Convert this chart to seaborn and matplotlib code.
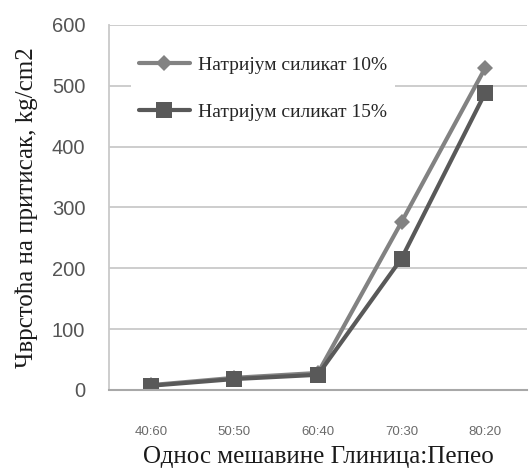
import matplotlib
matplotlib.use("Agg")
import matplotlib.pyplot as plt
import seaborn as sns
import pandas as pd
from matplotlib.ticker import FixedLocator

# Data
ratios = ["40:60", "50:50", "60:40", "70:30", "80:20"]
silicate_10 = [8, 20, 28, 276, 529]
silicate_15 = [7, 18, 25, 216, 488]
series_names = ["Натријум силикат 10%", "Натријум силикат 15%"]

df = pd.DataFrame({
    "pos": list(range(len(ratios))) * 2,
    "value": silicate_10 + silicate_15,
    "series": [series_names[0]] * len(ratios) + [series_names[1]] * len(ratios),
})

sns.set_style("white")
serif = ["Liberation Serif", "DejaVu Serif"]
sans = ["Liberation Sans", "DejaVu Sans"]

fig = plt.figure(figsize=(5.29, 4.71), dpi=100)
ax = fig.add_axes([0.206, 0.172, 0.79, 0.775])

grid_c = "#c9c9c9"
ax.set_ylim(0, 600)
ax.set_xlim(-0.5, 4.5)
ax.set_yticks(range(0, 601, 100))
ax.yaxis.grid(True, color=grid_c, linewidth=1.3)
ax.set_axisbelow(True)

sns.lineplot(data=df, x="pos", y="value", hue="series", style="series",
             markers={series_names[0]: "D", series_names[1]: "s"},
             dashes=False, palette={series_names[0]: "#828282", series_names[1]: "#595959"},
             linewidth=3, ax=ax, legend=False)
# marker sizes
lines = ax.get_lines()
lines[0].set_markersize(8)
lines[1].set_markersize(12)
for ln in lines:
    ln.set_markeredgewidth(0)

for s in ["top", "right"]:
    ax.spines[s].set_visible(False)
ax.spines["left"].set_color(grid_c)
ax.spines["left"].set_linewidth(1.3)
ax.spines["bottom"].set_color("#a8a8a8")
ax.spines["bottom"].set_linewidth(1.5)

ax.set_xticks(range(len(ratios)))
ax.set_xticklabels(ratios, fontsize=9.5, color="#6a6a6a", family=sans)
ax.xaxis.set_minor_locator(FixedLocator([-0.5, 0.5, 1.5, 2.5, 3.5]))
ax.tick_params(axis="x", which="major", length=0, pad=26)
ax.tick_params(axis="x", which="minor", length=7, width=1.3, color="#a8a8a8", direction="out")
ax.tick_params(axis="y", length=8, width=1.3, color=grid_c, pad=9, labelsize=14.5, labelcolor="#555555")
for t in ax.get_yticklabels():
    t.set_family(sans)

ax.set_xlabel("Однос мешавине Глиница:Пепео", fontsize=18, family=serif, color="#1a1a1a", labelpad=6)
ax.set_ylabel("Чврстоћа на притисак, kg/cm2", fontsize=18, family=serif, color="#1a1a1a", labelpad=10)

handles = [
    plt.Line2D([], [], color="#828282", linewidth=3, marker="D", markersize=8, markeredgewidth=0),
    plt.Line2D([], [], color="#595959", linewidth=3, marker="s", markersize=12, markeredgewidth=0),
]
leg = ax.legend(handles, series_names, loc="upper left", bbox_to_anchor=(0.03, 0.962),
                prop={"family": serif, "size": 14}, frameon=True, facecolor="white",
                edgecolor="none", framealpha=1, handlelength=2.6, handletextpad=0.45,
                labelspacing=1.5, borderpad=0.4, fancybox=False)

fig.savefig("out.png", dpi=100)
